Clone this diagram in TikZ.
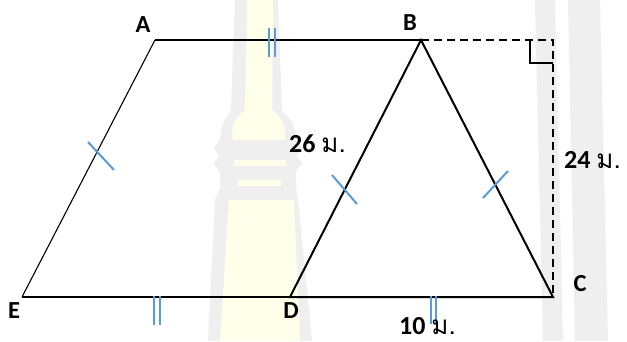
\documentclass[tikz,border=0pt]{standalone}
\usepackage{fontspec}
\setmainfont{Carlito}
\newfontfamily\thaifont[Script=Thai]{Loma}
\definecolor{tick}{HTML}{5B9BD5}
\definecolor{wmgrey}{HTML}{EFEFEF}
\definecolor{wmyellow}{HTML}{FFFFEA}
\begin{document}
\begin{tikzpicture}[x=1pt,y=-1pt,
  lbl/.style={font=\fontsize{24.5}{28}\selectfont\bfseries, inner sep=0pt},
  meas/.style={font=\fontsize{26}{30}\selectfont, inner sep=0pt},
  thinedge/.style={line width=1.1pt, black},
  thickedge/.style={line width=2pt, black},
  dashedge/.style={line width=2pt, black, dash pattern=on 8pt off 5pt},
  tickone/.style={line width=2pt, tick},
  ticktwo/.style={line width=1.2pt, tick}]
\useasboundingbox (0,0) rectangle (627,341);
\fill[white] (0,0) rectangle (627,341);
% watermark
\fill[wmgrey] (535,0) -- (555,0) -- (563,341) -- (543,341) -- cycle;
\fill[wmgrey] (568,0) -- (600,0) -- (608,341) -- (575,341) -- cycle;
\fill[wmgrey] (235,0) -- (278,0) -- (282,110) -- (292,122) -- (298,140) -- (302,148) -- (297,156) -- (302,163) -- (296,172) -- (296,188) -- (298,200) -- (312,341) -- (208,341) -- (215,200) -- (220,188) -- (220,172) -- (214,163) -- (219,156) -- (214,148) -- (220,140) -- (222,125) -- (231,110) -- cycle;
\fill[wmyellow] (247,0) -- (273,0) -- (272,110) .. controls (285,120) and (286,130) .. (285,140) -- (233,140) .. controls (231,130) and (232,120) .. (245,110) -- cycle;
\fill[wmyellow] (234,160) rectangle (286,166);
\fill[wmyellow] (238,180) rectangle (281,186);
\fill[wmyellow] (229,200) -- (294,200) -- (300,341) -- (220,341) -- cycle;
% vertices
\coordinate (A) at (155,40);
\coordinate (B) at (421,40);
\coordinate (E) at (22,297);
\coordinate (D) at (290,297);
\coordinate (C) at (553,297);
\coordinate (R) at (553,40);
% parallelogram
\draw[thinedge] (A) -- (B);
\draw[thinedge] (A) -- (E);
\draw[thinedge] (E) -- (D);
% triangle
\draw[thickedge, line join=miter] (B) -- (D) -- (C) -- cycle;
% height
\draw[dashedge] (B) -- (R) -- (C);
\draw[line width=1.5pt] (530,40) -- (530,63) -- (553,63);
% tick marks
\draw[tickone] (88,142) -- (114,170);
\draw[tickone] (332,175) -- (357,204);
\draw[tickone] (483,198) -- (508,171);
\draw[ticktwo] (269,28) -- (269,57);
\draw[ticktwo] (275,28) -- (275,57);
\draw[ticktwo] (154,296) -- (154,325);
\draw[ticktwo] (160,296) -- (160,325);
\draw[ticktwo] (431,296) -- (431,324);
\draw[ticktwo] (436,296) -- (436,324);
% labels
\node[lbl] (lA) at (143,25) {A};
\node[lbl] (lB) at (410,23) {B};
\node[lbl] (lE) at (14,311) {E};
\node[lbl] (lD) at (291,311) {D};
\node[lbl] (lC) at (580,284) {C};
\node[meas, anchor=base west] (m26) at (289,152) {\bfseries 26 {\thaifont\mdseries ม.}};
\node[meas, anchor=base west] (m24) at (564,168) {\bfseries 24 {\thaifont\mdseries ม.}};
\node[meas, anchor=base west] (m10) at (399,334) {\bfseries 10 {\thaifont\mdseries ม.}};
\end{tikzpicture}
\end{document}
